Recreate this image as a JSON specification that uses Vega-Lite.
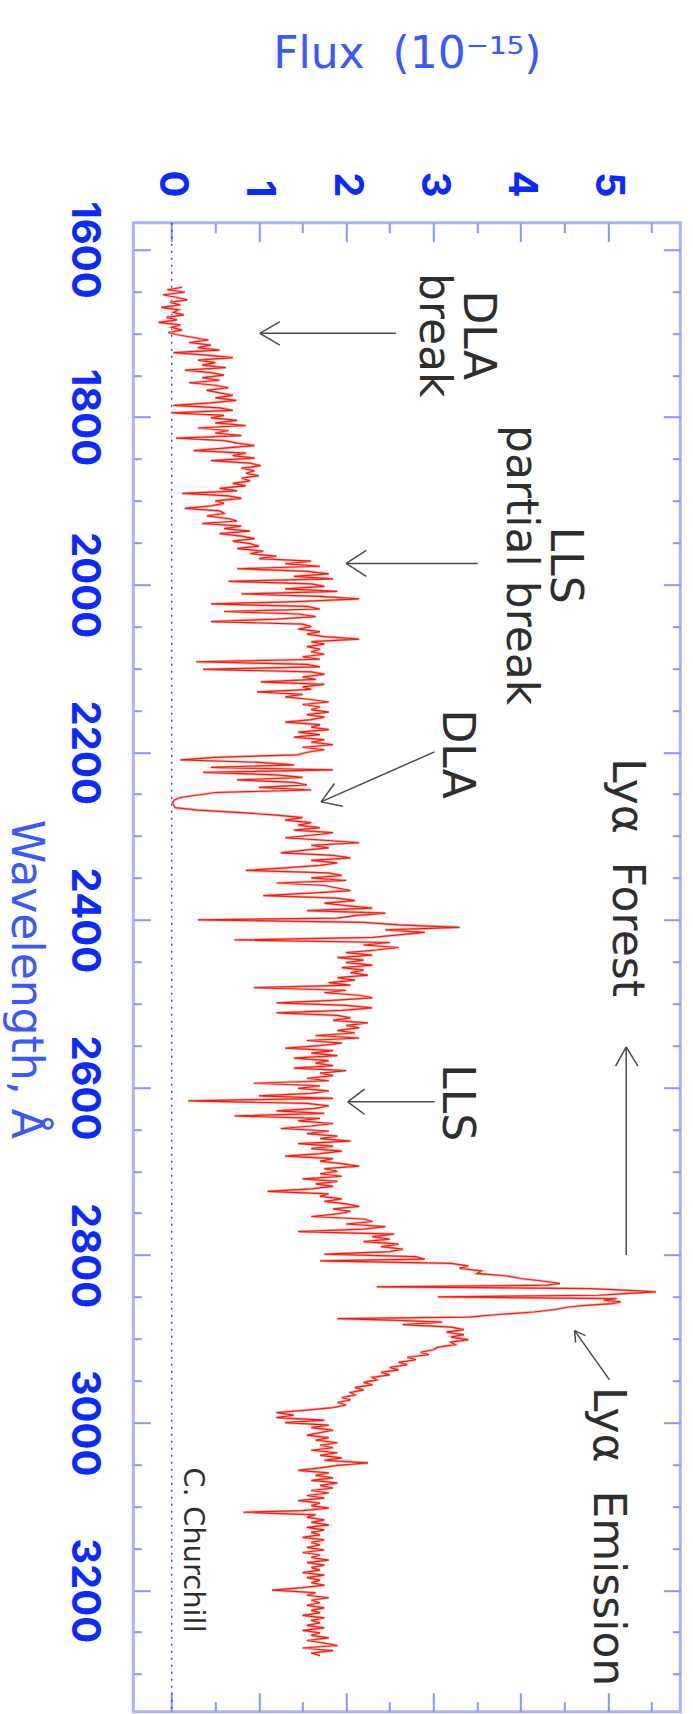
{
  "$schema": "https://vega.github.io/schema/vega-lite/v6.json",
  "width": 547,
  "height": 1489,
  "autosize": {"type": "none"},
  "padding": {"left": 133.3, "top": 222.7, "right": 12.7, "bottom": 2.3},
  "background": "white",
  "config": {
    "view": {"stroke": "#adb3fb", "strokeWidth": 3},
    "axis": {"grid": false, "domain": false, "tickColor": "#8c95fc", "tickWidth": 2}
  },
  "datasets": {
    "zero": [{"f": 0}],
    "spec": [
      {"w":1645,"f":0.12},{"w":1648,"f":-0.05},{"w":1651,"f":0.15},{"w":1654,"f":-0.1},{"w":1657,"f":0.05},{"w":1660,"f":0.18},{"w":1663,"f":-0.02},{"w":1666,"f":0.1},{"w":1669,"f":-0.12},{"w":1672,"f":0.08},
      {"w":1675,"f":0.02},{"w":1678,"f":0.14},{"w":1681,"f":-0.06},{"w":1684,"f":0.06},{"w":1687,"f":-0.15},{"w":1690,"f":0.1},{"w":1693,"f":0.0},{"w":1696,"f":0.12},{"w":1699,"f":-0.04},{"w":1702,"f":0.08},
      {"w":1705,"f":0.25},{"w":1708,"f":0.42},{"w":1711,"f":0.2},{"w":1714,"f":0.45},{"w":1717,"f":0.3},{"w":1720,"f":0.55},{"w":1723,"f":0.02},{"w":1726,"f":0.4},{"w":1729,"f":0.7},{"w":1732,"f":0.3},
      {"w":1735,"f":0.5},{"w":1738,"f":0.35},{"w":1741,"f":0.62},{"w":1744,"f":0.15},{"w":1747,"f":0.45},{"w":1750,"f":0.6},{"w":1753,"f":0.35},{"w":1756,"f":0.55},{"w":1759,"f":0.2},{"w":1762,"f":0.5},
      {"w":1765,"f":0.65},{"w":1768,"f":0.4},{"w":1771,"f":0.55},{"w":1774,"f":0.7},{"w":1777,"f":0.5},{"w":1780,"f":0.74},{"w":1783,"f":0.45},{"w":1786,"f":0.02},{"w":1789,"f":0.55},{"w":1792,"f":0.7},
      {"w":1795,"f":0.0},{"w":1798,"f":0.6},{"w":1801,"f":0.45},{"w":1804,"f":0.75},{"w":1807,"f":0.5},{"w":1810,"f":0.85},{"w":1813,"f":0.3},{"w":1816,"f":0.65},{"w":1819,"f":0.5},{"w":1822,"f":0.8},
      {"w":1825,"f":0.05},{"w":1828,"f":0.6},{"w":1831,"f":0.75},{"w":1834,"f":0.95},{"w":1837,"f":0.6},{"w":1840,"f":0.25},{"w":1843,"f":0.85},{"w":1846,"f":0.7},{"w":1849,"f":0.95},{"w":1852,"f":0.45},
      {"w":1855,"f":0.9},{"w":1858,"f":1.02},{"w":1861,"f":0.8},{"w":1864,"f":0.95},{"w":1867,"f":0.85},{"w":1870,"f":1.0},{"w":1873,"f":0.8},{"w":1876,"f":0.9},{"w":1879,"f":0.7},{"w":1882,"f":0.85},
      {"w":1885,"f":0.55},{"w":1888,"f":0.75},{"w":1891,"f":0.12},{"w":1894,"f":0.65},{"w":1897,"f":0.8},{"w":1900,"f":0.5},{"w":1903,"f":0.6},{"w":1906,"f":0.45},{"w":1909,"f":0.15},{"w":1912,"f":0.55},
      {"w":1915,"f":0.6},{"w":1918,"f":0.4},{"w":1921,"f":0.65},{"w":1924,"f":0.75},{"w":1927,"f":0.35},{"w":1930,"f":0.8},{"w":1933,"f":0.6},{"w":1936,"f":0.9},{"w":1939,"f":0.55},{"w":1942,"f":0.8},
      {"w":1945,"f":0.95},{"w":1948,"f":0.7},{"w":1951,"f":0.9},{"w":1954,"f":1.0},{"w":1957,"f":0.75},{"w":1960,"f":1.05},{"w":1963,"f":0.9},{"w":1966,"f":1.2},{"w":1969,"f":1.0},{"w":1972,"f":1.6},
      {"w":1975,"f":1.3},{"w":1978,"f":1.7},{"w":1981,"f":0.75},{"w":1984,"f":1.55},{"w":1987,"f":1.8},{"w":1990,"f":1.4},{"w":1993,"f":1.85},{"w":1996,"f":0.65},{"w":1999,"f":1.6},{"w":2002,"f":1.75},
      {"w":2005,"f":1.3},{"w":2008,"f":1.9},{"w":2011,"f":0.8},{"w":2014,"f":1.7},{"w":2017,"f":2.15},{"w":2020,"f":1.5},{"w":2023,"f":0.45},{"w":2026,"f":1.55},{"w":2029,"f":1.7},{"w":2032,"f":0.6},
      {"w":2035,"f":1.45},{"w":2038,"f":1.65},{"w":2041,"f":1.2},{"w":2044,"f":0.45},{"w":2047,"f":1.5},{"w":2050,"f":1.6},{"w":2053,"f":1.45},{"w":2056,"f":1.7},{"w":2059,"f":1.55},{"w":2062,"f":1.75},
      {"w":2065,"f":2.15},{"w":2068,"f":1.6},{"w":2071,"f":1.75},{"w":2074,"f":1.55},{"w":2077,"f":1.7},{"w":2080,"f":1.6},{"w":2083,"f":1.75},{"w":2086,"f":1.5},{"w":2089,"f":1.7},{"w":2092,"f":0.28},
      {"w":2095,"f":1.55},{"w":2098,"f":1.7},{"w":2101,"f":0.36},{"w":2104,"f":1.6},{"w":2107,"f":1.75},{"w":2110,"f":1.5},{"w":2113,"f":1.65},{"w":2116,"f":1.02},{"w":2119,"f":1.75},{"w":2122,"f":1.5},
      {"w":2125,"f":1.6},{"w":2128,"f":0.98},{"w":2131,"f":1.5},{"w":2134,"f":1.3},{"w":2137,"f":1.6},{"w":2140,"f":1.8},{"w":2143,"f":1.5},{"w":2146,"f":1.7},{"w":2149,"f":1.6},{"w":2152,"f":1.8},
      {"w":2155,"f":1.55},{"w":2158,"f":1.75},{"w":2161,"f":1.6},{"w":2164,"f":1.3},{"w":2167,"f":1.7},{"w":2170,"f":1.6},{"w":2173,"f":1.8},{"w":2176,"f":1.45},{"w":2179,"f":1.7},{"w":2182,"f":1.4},
      {"w":2185,"f":1.75},{"w":2188,"f":1.6},{"w":2191,"f":1.85},{"w":2194,"f":1.5},{"w":2197,"f":1.75},{"w":2200,"f":1.55},{"w":2203,"f":1.45},{"w":2206,"f":0.5},{"w":2209,"f":0.1},{"w":2212,"f":1.0},
      {"w":2215,"f":1.4},{"w":2218,"f":0.45},{"w":2221,"f":1.85},{"w":2224,"f":0.36},{"w":2227,"f":1.2},{"w":2230,"f":1.5},{"w":2233,"f":0.75},{"w":2236,"f":1.4},{"w":2239,"f":1.55},{"w":2242,"f":1.0},
      {"w":2245,"f":1.6},{"w":2248,"f":0.5},{"w":2251,"f":0.3},{"w":2254,"f":0.1},{"w":2257,"f":0.03},{"w":2260,"f":0.01},{"w":2263,"f":0.02},{"w":2266,"f":0.04},{"w":2269,"f":0.3},{"w":2272,"f":0.8},
      {"w":2275,"f":1.2},{"w":2278,"f":1.5},{"w":2281,"f":1.3},{"w":2284,"f":1.6},{"w":2287,"f":1.45},{"w":2290,"f":1.7},{"w":2293,"f":1.4},{"w":2296,"f":1.85},{"w":2299,"f":1.6},{"w":2302,"f":1.3},
      {"w":2305,"f":1.75},{"w":2308,"f":2.15},{"w":2311,"f":1.6},{"w":2314,"f":1.8},{"w":2317,"f":1.5},{"w":2320,"f":1.25},{"w":2323,"f":1.85},{"w":2326,"f":2.05},{"w":2329,"f":1.6},{"w":2332,"f":1.9},
      {"w":2335,"f":1.7},{"w":2338,"f":1.3},{"w":2341,"f":0.85},{"w":2344,"f":1.8},{"w":2347,"f":1.95},{"w":2350,"f":1.6},{"w":2353,"f":2.0},{"w":2356,"f":1.2},{"w":2359,"f":1.75},{"w":2362,"f":1.9},
      {"w":2365,"f":2.05},{"w":2368,"f":1.6},{"w":2371,"f":1.05},{"w":2374,"f":1.9},{"w":2377,"f":2.1},{"w":2380,"f":1.75},{"w":2383,"f":2.0},{"w":2386,"f":2.3},{"w":2389,"f":1.55},{"w":2392,"f":2.45},
      {"w":2395,"f":2.1},{"w":2398,"f":1.9},{"w":2400,"f":0.3},{"w":2403,"f":2.2},{"w":2406,"f":2.6},{"w":2409,"f":3.3},{"w":2412,"f":2.45},{"w":2415,"f":2.9},{"w":2418,"f":2.6},{"w":2421,"f":2.3},
      {"w":2424,"f":0.72},{"w":2427,"f":2.5},{"w":2430,"f":2.2},{"w":2433,"f":2.6},{"w":2436,"f":2.35},{"w":2439,"f":2.0},{"w":2442,"f":2.3},{"w":2445,"f":1.9},{"w":2448,"f":2.2},{"w":2451,"f":2.0},
      {"w":2454,"f":2.3},{"w":2457,"f":1.95},{"w":2460,"f":2.2},{"w":2463,"f":2.05},{"w":2466,"f":2.25},{"w":2469,"f":1.9},{"w":2472,"f":2.1},{"w":2475,"f":1.8},{"w":2478,"f":2.05},{"w":2481,"f":0.94},
      {"w":2484,"f":2.0},{"w":2487,"f":1.75},{"w":2490,"f":2.15},{"w":2493,"f":2.3},{"w":2496,"f":1.85},{"w":2499,"f":1.2},{"w":2502,"f":2.0},{"w":2505,"f":2.3},{"w":2508,"f":1.95},{"w":2511,"f":1.2},
      {"w":2514,"f":1.9},{"w":2517,"f":2.05},{"w":2520,"f":1.85},{"w":2523,"f":2.25},{"w":2526,"f":2.0},{"w":2529,"f":2.15},{"w":2532,"f":1.9},{"w":2535,"f":2.1},{"w":2538,"f":1.65},{"w":2541,"f":2.15},
      {"w":2544,"f":1.55},{"w":2547,"f":1.95},{"w":2550,"f":1.7},{"w":2553,"f":1.3},{"w":2556,"f":1.85},{"w":2559,"f":1.6},{"w":2562,"f":1.9},{"w":2565,"f":1.4},{"w":2568,"f":1.8},{"w":2571,"f":1.65},
      {"w":2574,"f":1.85},{"w":2577,"f":1.4},{"w":2580,"f":2.0},{"w":2583,"f":1.7},{"w":2586,"f":1.85},{"w":2589,"f":1.55},{"w":2592,"f":1.8},{"w":2595,"f":0.94},{"w":2598,"f":1.7},{"w":2601,"f":1.45},
      {"w":2604,"f":1.8},{"w":2607,"f":1.6},{"w":2610,"f":1.0},{"w":2613,"f":1.85},{"w":2616,"f":0.19},{"w":2619,"f":1.55},{"w":2622,"f":1.8},{"w":2625,"f":1.65},{"w":2628,"f":1.2},{"w":2631,"f":1.75},
      {"w":2634,"f":0.72},{"w":2637,"f":1.7},{"w":2640,"f":1.45},{"w":2643,"f":1.85},{"w":2646,"f":1.6},{"w":2649,"f":1.25},{"w":2652,"f":1.8},{"w":2655,"f":1.55},{"w":2658,"f":1.9},{"w":2661,"f":1.7},
      {"w":2664,"f":2.05},{"w":2667,"f":1.45},{"w":2670,"f":1.85},{"w":2673,"f":1.6},{"w":2676,"f":1.95},{"w":2679,"f":1.7},{"w":2682,"f":1.3},{"w":2685,"f":1.85},{"w":2688,"f":1.7},{"w":2691,"f":1.95},
      {"w":2694,"f":2.15},{"w":2697,"f":1.75},{"w":2700,"f":1.9},{"w":2703,"f":1.7},{"w":2706,"f":1.95},{"w":2709,"f":1.5},{"w":2712,"f":1.9},{"w":2715,"f":1.65},{"w":2718,"f":1.85},{"w":2721,"f":1.6},
      {"w":2724,"f":1.1},{"w":2727,"f":1.8},{"w":2730,"f":1.7},{"w":2733,"f":1.95},{"w":2736,"f":1.75},{"w":2739,"f":2.0},{"w":2742,"f":2.15},{"w":2745,"f":1.85},{"w":2748,"f":2.05},{"w":2751,"f":1.9},
      {"w":2754,"f":1.6},{"w":2757,"f":2.2},{"w":2760,"f":2.3},{"w":2763,"f":2.0},{"w":2766,"f":2.45},{"w":2769,"f":2.2},{"w":2772,"f":1.45},{"w":2775,"f":2.55},{"w":2778,"f":2.3},{"w":2781,"f":2.5},
      {"w":2784,"f":2.2},{"w":2787,"f":2.6},{"w":2790,"f":2.4},{"w":2793,"f":2.65},{"w":2796,"f":2.5},{"w":2799,"f":1.75},{"w":2802,"f":2.8},{"w":2805,"f":2.9},{"w":2807,"f":1.7},{"w":2810,"f":3.2},
      {"w":2813,"f":3.4},{"w":2816,"f":3.3},{"w":2819,"f":3.55},{"w":2822,"f":3.5},{"w":2825,"f":3.85},{"w":2828,"f":4.0},{"w":2831,"f":4.25},{"w":2834,"f":4.45},{"w":2836,"f":4.3},{"w":2838,"f":2.35},
      {"w":2840,"f":4.8},{"w":2842,"f":5.2},{"w":2844,"f":5.55},{"w":2846,"f":5.2},{"w":2848,"f":4.9},{"w":2850,"f":3.05},{"w":2852,"f":5.1},{"w":2854,"f":4.95},{"w":2856,"f":5.15},{"w":2858,"f":5.05},
      {"w":2860,"f":4.75},{"w":2862,"f":4.55},{"w":2865,"f":4.4},{"w":2868,"f":4.15},{"w":2871,"f":3.75},{"w":2874,"f":3.4},{"w":2876,"f":1.9},{"w":2878,"f":2.6},{"w":2880,"f":3.1},{"w":2883,"f":2.65},
      {"w":2886,"f":3.2},{"w":2889,"f":3.35},{"w":2892,"f":3.15},{"w":2895,"f":3.35},{"w":2898,"f":3.2},{"w":2901,"f":3.4},{"w":2904,"f":3.2},{"w":2907,"f":3.25},{"w":2910,"f":3.05},{"w":2913,"f":3.0},
      {"w":2916,"f":2.85},{"w":2919,"f":2.95},{"w":2922,"f":2.7},{"w":2925,"f":2.8},{"w":2928,"f":2.6},{"w":2931,"f":2.7},{"w":2934,"f":2.5},{"w":2937,"f":2.6},{"w":2940,"f":2.4},{"w":2943,"f":2.5},
      {"w":2946,"f":2.3},{"w":2949,"f":2.35},{"w":2952,"f":2.2},{"w":2955,"f":2.3},{"w":2958,"f":2.1},{"w":2961,"f":2.2},{"w":2964,"f":2.05},{"w":2967,"f":2.1},{"w":2970,"f":1.95},{"w":2973,"f":2.05},
      {"w":2976,"f":1.9},{"w":2979,"f":2.0},{"w":2982,"f":1.85},{"w":2985,"f":1.55},{"w":2988,"f":1.2},{"w":2991,"f":1.4},{"w":2994,"f":1.2},{"w":2997,"f":1.75},{"w":3000,"f":1.3},{"w":3003,"f":1.8},
      {"w":3006,"f":1.6},{"w":3009,"f":1.85},{"w":3012,"f":1.7},{"w":3015,"f":1.55},{"w":3018,"f":1.8},{"w":3021,"f":1.65},{"w":3024,"f":1.9},{"w":3027,"f":1.7},{"w":3030,"f":1.85},{"w":3033,"f":1.6},
      {"w":3036,"f":1.9},{"w":3039,"f":1.7},{"w":3042,"f":1.95},{"w":3045,"f":1.75},{"w":3048,"f":2.25},{"w":3051,"f":1.9},{"w":3054,"f":1.7},{"w":3057,"f":1.45},{"w":3060,"f":1.8},{"w":3063,"f":1.65},
      {"w":3066,"f":1.85},{"w":3069,"f":1.6},{"w":3072,"f":1.9},{"w":3075,"f":1.7},{"w":3078,"f":1.85},{"w":3081,"f":1.6},{"w":3084,"f":1.8},{"w":3087,"f":1.55},{"w":3090,"f":1.75},{"w":3093,"f":1.45},
      {"w":3096,"f":1.7},{"w":3099,"f":1.6},{"w":3102,"f":1.8},{"w":3105,"f":1.5},{"w":3107,"f":0.82},{"w":3110,"f":1.65},{"w":3113,"f":1.55},{"w":3116,"f":1.75},{"w":3119,"f":1.6},{"w":3122,"f":1.8},
      {"w":3125,"f":1.55},{"w":3128,"f":1.75},{"w":3131,"f":1.6},{"w":3134,"f":1.7},{"w":3137,"f":1.5},{"w":3140,"f":1.75},{"w":3143,"f":1.6},{"w":3146,"f":1.7},{"w":3149,"f":1.55},{"w":3152,"f":1.75},
      {"w":3155,"f":1.5},{"w":3158,"f":1.7},{"w":3161,"f":1.6},{"w":3164,"f":1.8},{"w":3167,"f":1.55},{"w":3170,"f":1.75},{"w":3173,"f":1.6},{"w":3176,"f":1.7},{"w":3179,"f":1.5},{"w":3182,"f":1.75},
      {"w":3185,"f":1.55},{"w":3188,"f":1.7},{"w":3191,"f":1.6},{"w":3194,"f":1.75},{"w":3197,"f":1.5},{"w":3200,"f":1.15},{"w":3203,"f":1.65},{"w":3206,"f":1.55},{"w":3209,"f":1.8},{"w":3212,"f":1.6},
      {"w":3215,"f":1.7},{"w":3218,"f":1.55},{"w":3221,"f":1.75},{"w":3224,"f":1.6},{"w":3227,"f":1.7},{"w":3230,"f":1.5},{"w":3233,"f":1.75},{"w":3236,"f":1.6},{"w":3239,"f":1.7},{"w":3242,"f":1.55},
      {"w":3245,"f":1.75},{"w":3248,"f":1.5},{"w":3251,"f":1.7},{"w":3254,"f":1.6},{"w":3257,"f":1.8},{"w":3260,"f":1.55},{"w":3263,"f":1.75},{"w":3266,"f":1.9},{"w":3269,"f":1.5},{"w":3272,"f":1.85},
      {"w":3275,"f":1.6},{"w":3278,"f":1.7}
    ],
    "arrows": [
      {"f":1.01,"w":1700,"f2":2.57,"w2":1700},{"f":1.01,"w":1700,"f2":1.24,"w2":1686},{"f":1.01,"w":1700,"f2":1.24,"w2":1714},
      {"f":2.0,"w":1974.7,"f2":3.51,"w2":1974.7},{"f":2.0,"w":1974.7,"f2":2.23,"w2":1959},{"f":2.0,"w":1974.7,"f2":2.23,"w2":1990},
      {"f":1.712,"w":2259.2,"f2":3.013,"w2":2199.5},{"f":1.712,"w":2259.2,"f2":1.866,"w2":2237.2},{"f":1.712,"w":2259.2,"f2":1.961,"w2":2264.3},
      {"f":2.018,"w":2617.2,"f2":3.013,"w2":2617.2},{"f":2.018,"w":2617.2,"f2":2.21,"w2":2602},{"f":2.018,"w":2617.2,"f2":2.21,"w2":2632},
      {"f":5.21,"w":2551.6,"f2":5.21,"w2":2800.1},{"f":5.21,"w":2551.6,"f2":5.088,"w2":2574.6},{"f":5.21,"w":2551.6,"f2":5.344,"w2":2574.6},
      {"f":4.618,"w":2890.2,"f2":5.017,"w2":2948.7},{"f":4.618,"w":2890.2,"f2":4.631,"w2":2904.5},{"f":4.618,"w":2890.2,"f2":4.743,"w2":2896.2}
    ],
    "notes": [
      {"label":"DLA\nbreak","f":3.349,"w":1702.3},
      {"label":"LLS\npartial break","f":4.346,"w":1976.7},
      {"label":"DLA","f":3.108,"w":2202.3},
      {"label":"Lyα\u00a0 Forest","f":5.054,"w":2349.6},
      {"label":"LLS","f":3.108,"w":2618.1},
      {"label":"Lyα\u00a0 Emission","f":4.845,"w":3136}
    ],
    "credit": [{"label":"C. Churchill","f":0.138,"w":3152}]
  },
  "resolve": {"axis": {"x": "independent", "y": "independent"}},
  "layer": [
    {
      "data": {"name": "zero"},
      "mark": {"type": "rule", "color": "#2f40ff", "strokeDash": [2, 5], "strokeWidth": 1.5},
      "encoding": {
        "x": {"field": "f", "type": "quantitative",
          "scale": {"domain": [-0.44, 5.83], "nice": false, "zero": false},
          "axis": {"orient": "top", "values": [0,1,2,3,4,5], "format": "d", "ticks": false, "domain": false,
            "labelAngle": 90, "labelAlign": "right", "labelBaseline": "middle", "labelPadding": 25.7,
            "labelFont": "Inter", "labelFontWeight": "bold", "labelFontSize": 40, "labelColor": "#0a2aff",
            "labelFlush": false, "labelOverlap": false,
            "title": "Flux\u00a0 (10⁻¹⁵)", "titleFont": "DejaVu Sans", "titleFontWeight": "normal", "titleFontSize": 44,
            "titleColor": "#3a58ff", "titleX": 273.5, "titleY": -155.7, "titleAlign": "center", "titleBaseline": "alphabetic", "titleAngle": 0}}
      }
    },
    {
      "data": {"name": "spec"},
      "mark": {"type": "line", "color": "#ffb4b4", "strokeWidth": 2.6},
      "encoding": {
        "x": {"field": "f", "type": "quantitative", "scale": {"domain": [-0.44, 5.83], "nice": false, "zero": false},
          "axis": {"orient": "top", "values": [0,1,2,3,4,5], "labels": false, "domain": false, "tickSize": 19, "offset": -19, "title": null}},
        "y": {"field": "w", "type": "quantitative", "scale": {"domain": [1568, 3345], "nice": false, "zero": false, "reverse": true},
          "axis": {"orient": "left", "values": [1600,1800,2000,2200,2400,2600,2800,3000,3200], "format": "d", "ticks": false, "domain": false,
            "labelAngle": 90, "labelAlign": "center", "labelBaseline": "alphabetic", "labelPadding": 61.6,
            "labelFont": "Inter", "labelFontWeight": "bold", "labelFontSize": 40, "labelColor": "#0a2aff",
            "labelFlush": false, "labelOverlap": false,
            "title": "Wavelength, Å", "titleFont": "DejaVu Sans", "titleFontWeight": "normal", "titleFontSize": 44,
            "titleColor": "#3a58ff", "titleX": -122.3, "titleY": 756, "titleAlign": "center", "titleBaseline": "alphabetic", "titleAngle": 90}},
        "order": {"field": "w", "type": "quantitative"}
      }
    },
    {
      "data": {"name": "spec"},
      "mark": {"type": "line", "color": "#f51c0c", "strokeWidth": 1.2},
      "encoding": {
        "x": {"field": "f", "type": "quantitative", "scale": {"domain": [-0.44, 5.83], "nice": false, "zero": false},
          "axis": {"orient": "top", "values": [0.5,1.5,2.5,3.5,4.5,5.5], "labels": false, "domain": false, "tickSize": 10, "offset": -10, "title": null}},
        "y": {"field": "w", "type": "quantitative", "scale": {"domain": [1568, 3345], "nice": false, "zero": false, "reverse": true},
          "axis": {"orient": "left", "values": [1600,1800,2000,2200,2400,2600,2800,3000,3200], "labels": false, "domain": false, "tickSize": 17, "offset": -17, "title": null}},
        "order": {"field": "w", "type": "quantitative"}
      }
    },
    {
      "data": {"name": "arrows"},
      "mark": {"type": "rule", "color": "#4a4a4a", "strokeWidth": 1.5},
      "encoding": {
        "x": {"field": "f", "type": "quantitative", "scale": {"domain": [-0.44, 5.83], "nice": false, "zero": false},
          "axis": {"orient": "bottom", "values": [0,1,2,3,4,5], "labels": false, "domain": false, "tickSize": 19, "offset": -19, "title": null}},
        "y": {"field": "w", "type": "quantitative", "scale": {"domain": [1568, 3345], "nice": false, "zero": false, "reverse": true},
          "axis": {"orient": "left", "values": [1650,1700,1750,1850,1900,1950,2050,2100,2150,2250,2300,2350,2450,2500,2550,2650,2700,2750,2850,2900,2950,3050,3100,3150,3250,3300], "labels": false, "domain": false, "tickSize": 8, "offset": -8, "title": null}},
        "x2": {"field": "f2"},
        "y2": {"field": "w2"}
      }
    },
    {
      "data": {"name": "notes"},
      "mark": {"type": "text", "font": "DejaVu Sans", "fontSize": 44, "lineHeight": 44, "lineBreak": "\n", "angle": 90, "align": "center", "baseline": "alphabetic", "color": "#2e2e2e"},
      "encoding": {
        "x": {"field": "f", "type": "quantitative", "scale": {"domain": [-0.44, 5.83], "nice": false, "zero": false},
          "axis": {"orient": "bottom", "values": [0.5,1.5,2.5,3.5,4.5,5.5], "labels": false, "domain": false, "tickSize": 10, "offset": -10, "title": null}},
        "y": {"field": "w", "type": "quantitative", "scale": {"domain": [1568, 3345], "nice": false, "zero": false, "reverse": true},
          "axis": {"orient": "right", "values": [1600,1800,2000,2200,2400,2600,2800,3000,3200], "labels": false, "domain": false, "tickSize": 17, "offset": -17, "title": null}},
        "text": {"field": "label"}
      }
    },
    {
      "data": {"name": "credit"},
      "mark": {"type": "text", "font": "DejaVu Sans", "fontSize": 29, "angle": 90, "align": "center", "baseline": "alphabetic", "color": "#2e2e2e"},
      "encoding": {
        "x": {"field": "f", "type": "quantitative", "scale": {"domain": [-0.44, 5.83], "nice": false, "zero": false}, "axis": null},
        "y": {"field": "w", "type": "quantitative", "scale": {"domain": [1568, 3345], "nice": false, "zero": false, "reverse": true},
          "axis": {"orient": "right", "values": [1650,1700,1750,1850,1900,1950,2050,2100,2150,2250,2300,2350,2450,2500,2550,2650,2700,2750,2850,2900,2950,3050,3100,3150,3250,3300], "labels": false, "domain": false, "tickSize": 8, "offset": -8, "title": null}},
        "text": {"field": "label"}
      }
    }
  ]
}
